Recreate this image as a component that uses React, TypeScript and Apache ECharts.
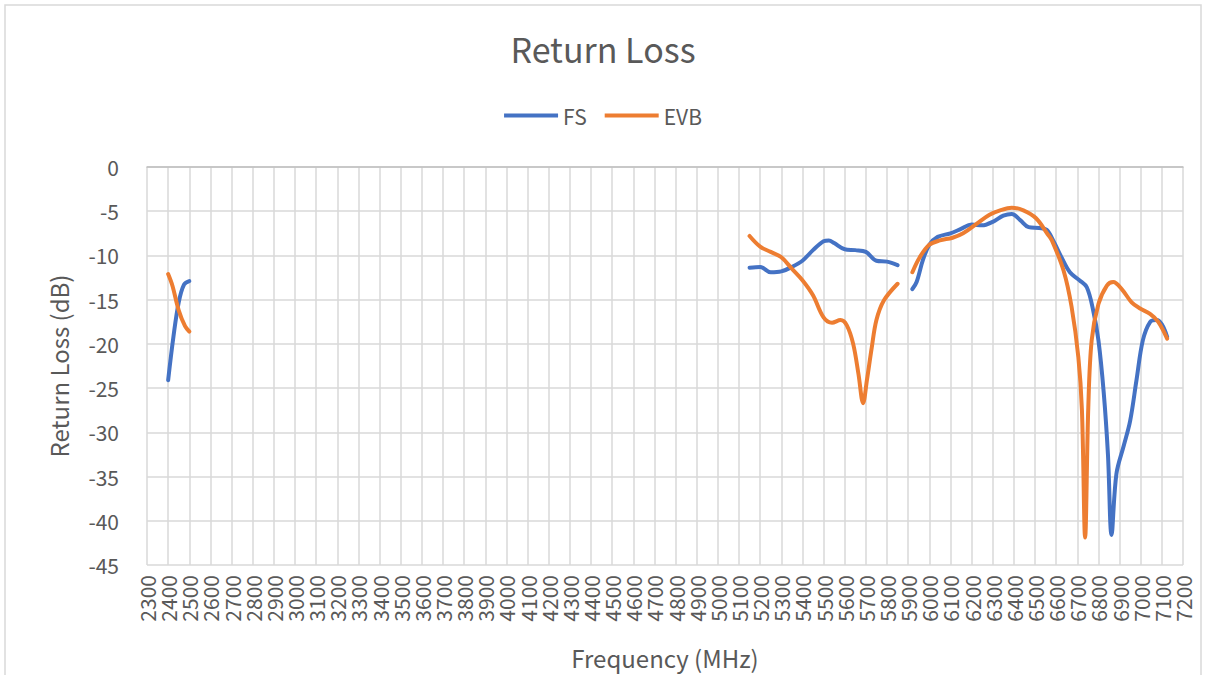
import React, { useEffect, useRef } from "react";
import * as echarts from "echarts";

const xTickMin = 2300;
const xTickMax = 7200;
const xTickStep = 100;
const yTickMin = -45;
const yTickMax = 0;
const yTickStep = 5;

// null marks a gap between measured bands
const fsFreq = [
  2400, 2425, 2450, 2475, 2500, null,
  5150, 5200, 5250, 5300, 5350, 5400, 5450, 5500, 5525, 5550, 5600, 5650, 5700, 5750, 5800, 5850, null,
  5920, 5940, 5970, 6000, 6040, 6100, 6150, 6200, 6250, 6300, 6350, 6390, 6430, 6470, 6520, 6555, 6590,
  6625, 6665, 6710, 6745, 6775, 6800, 6825, 6845, 6862, 6885, 6920, 6950, 6980, 7010, 7045, 7075, 7100, 7125,
];
const fsLoss = [
  -24.1, -19.2, -15.3, -13.3, -12.9, null,
  -11.4, -11.3, -11.9, -11.8, -11.3, -10.6, -9.4, -8.4, -8.3, -8.6, -9.3, -9.4, -9.6, -10.6, -10.7, -11.1, null,
  -13.8, -13.0, -10.5, -8.8, -7.9, -7.5, -7.0, -6.5, -6.6, -6.2, -5.5, -5.3, -6.0, -6.8, -6.9, -7.1, -8.5,
  -10.2, -11.9, -12.8, -13.6, -16.2, -19.6, -25.5, -32.5, -41.6, -34.7, -31.5, -28.7, -24.1, -19.6, -17.5, -17.3, -17.8, -19.2,
];

const evbFreq = [
  2400, 2420, 2450, 2480, 2500, null,
  5150, 5200, 5250, 5300, 5350, 5400, 5450, 5500, 5540, 5580, 5610, 5640, 5665, 5687, 5705, 5728, 5750, 5785, 5850, null,
  5920, 5955, 6000, 6050, 6110, 6160, 6225, 6285, 6335, 6390, 6445, 6505, 6560, 6580, 6635, 6673, 6705, 6722,
  6737, 6752, 6768, 6800, 6840, 6870, 6910, 6957, 6997, 7044, 7083, 7125,
];
const evbLoss = [
  -12.1, -13.4, -16.2, -18.0, -18.6, null,
  -7.8, -9.0, -9.6, -10.2, -11.5, -12.8, -14.5, -17.0, -17.6, -17.3, -17.9, -20.0, -23.4, -26.7, -24.1, -20.4, -17.3, -15.1, -13.2, null,
  -11.9, -10.2, -8.8, -8.3, -8.0, -7.5, -6.4, -5.4, -4.9, -4.6, -4.9, -5.8, -7.6, -8.3, -11.7, -15.8, -21.5, -27.5,
  -41.9, -27.2, -19.6, -15.5, -13.4, -13.0, -13.8, -15.3, -16.0, -16.6, -17.5, -19.4,
];

const seriesNames = ["FS", "EVB"];
const seriesColors = ["#4472C4", "#ED7D31"];

function pairs(xs: (number | null)[], ys: (number | null)[]) {
  return xs.map((x, i) => (x == null || ys[i] == null ? [x ?? 0, "-"] : [x, ys[i]]));
}

const FONT = "'Noto Sans CJK SC', 'Noto Sans', sans-serif";
const TEXT = "#595959";

export default function App() {
  const ref = useRef<HTMLDivElement>(null);
  useEffect(() => {
    if (!ref.current) return;
    const chart = echarts.init(ref.current, null, { renderer: "svg" });
    chart.setOption({
      animation: false,
      backgroundColor: "#ffffff",
      textStyle: { fontFamily: FONT, color: TEXT },
      title: {
        text: "Return Loss",
        left: "center",
        top: 31,
        padding: 0,
        textStyle: { fontSize: 34, fontWeight: "normal", color: TEXT, fontFamily: FONT },
      },
      legend: {
        top: 105,
        left: "center",
        padding: 0,
        icon: "rect",
        itemWidth: 54,
        itemHeight: 4,
        itemGap: 18,
        textStyle: { fontSize: 21, color: TEXT, fontFamily: FONT },
        data: seriesNames,
      },
      graphic: [
        {
          type: "rect",
          shape: { x: 5, y: 5, width: 1196, height: 680 },
          style: { fill: "none", stroke: "#d9d9d9", lineWidth: 1.5 },
          silent: true,
          z: -1,
        },
      ],
      grid: { left: 147, right: 23, top: 167, bottom: 110, containLabel: false },
      xAxis: {
        type: "value",
        min: xTickMin,
        max: xTickMax,
        interval: xTickStep,
        name: "Frequency (MHz)",
        nameLocation: "middle",
        nameGap: 80,
        nameTextStyle: { fontSize: 24, color: TEXT, fontFamily: FONT },
        axisLine: { show: true, lineStyle: { color: "#bfbfbf", width: 1.5 } },
        axisTick: { show: false },
        axisLabel: {
          rotate: 90,
          fontSize: 21,
          color: TEXT,
          margin: 10,
          fontFamily: FONT,
          showMinLabel: true,
          showMaxLabel: true,
          hideOverlap: false,
          formatter: (v: number) => String(v),
        },
        splitLine: { show: true, lineStyle: { color: "#d9d9d9", width: 1.5 } },
      },
      yAxis: {
        type: "value",
        min: yTickMin,
        max: yTickMax,
        interval: yTickStep,
        name: "Return Loss (dB)",
        nameLocation: "middle",
        nameGap: 77,
        nameTextStyle: { fontSize: 24, color: TEXT, fontFamily: FONT },
        axisLine: { show: false },
        axisTick: { show: false },
        axisLabel: { fontSize: 21, color: TEXT, margin: 28, fontFamily: FONT },
        splitLine: { show: true, lineStyle: { color: "#d9d9d9", width: 1.5 } },
      },
      series: [
        {
          name: seriesNames[0],
          type: "line",
          data: pairs(fsFreq, fsLoss),
          smooth: 0.35,
          symbol: "none",
          connectNulls: false,
          lineStyle: { color: seriesColors[0], width: 4, cap: "round", join: "round" },
          itemStyle: { color: seriesColors[0] },
        },
        {
          name: seriesNames[1],
          type: "line",
          data: pairs(evbFreq, evbLoss),
          smooth: 0.35,
          symbol: "none",
          connectNulls: false,
          lineStyle: { color: seriesColors[1], width: 4, cap: "round", join: "round" },
          itemStyle: { color: seriesColors[1] },
        },
      ],
    });
    return () => chart.dispose();
  }, []);
  return (
    <div
      ref={ref}
      style={{ position: "absolute", left: 0, top: 0, width: 1206, height: 675 }}
    />
  );
}
